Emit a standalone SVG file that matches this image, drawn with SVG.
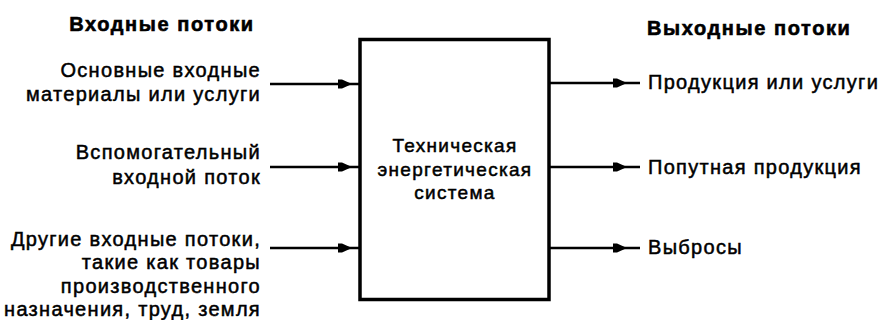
<svg xmlns="http://www.w3.org/2000/svg" width="878" height="320" viewBox="0 0 878 320">
<style>
  text { font-family: "Liberation Sans", Arial, sans-serif; fill: #000; }
  .hdr { font-size: 20px; font-weight: bold; letter-spacing: 1.6px; stroke: #000; stroke-width: 0.6; }
  .lbl { font-size: 20px; letter-spacing: 1.3px; stroke: #000; stroke-width: 0.5; }
  .box-lbl { font-size: 19px; letter-spacing: 1.3px; stroke: #000; stroke-width: 0.5; }
  .conn { stroke: #000; stroke-width: 2.5; fill: none; }
</style>
<defs>
  <marker id="arr-in" markerUnits="userSpaceOnUse" markerWidth="30" markerHeight="14" refX="21" refY="6" orient="auto">
    <path d="M0,1.5 L4,1.5 L14,6 L4,10.5 L0,10.5 z" fill="#000"/>
  </marker>
  <marker id="arr-out" markerUnits="userSpaceOnUse" markerWidth="30" markerHeight="14" refX="27" refY="6" orient="auto">
    <path d="M0,1.5 L4,1.5 L14,6 L4,10.5 L0,10.5 z" fill="#000"/>
  </marker>
</defs>
<rect width="878" height="320" fill="#fff"/>
<g id="headers">
  <text class="hdr" x="162" y="31" text-anchor="middle">Входные потоки</text>
  <text class="hdr" x="647" y="35">Выходные потоки</text>
</g>
<g id="system">
  <rect x="360" y="39.5" width="189" height="260" fill="#fff" stroke="#000" stroke-width="3.5"/>
  <text class="box-lbl" x="455" y="152" text-anchor="middle">Техническая</text>
  <text class="box-lbl" x="455" y="176" text-anchor="middle">энергетическая</text>
  <text class="box-lbl" x="455" y="199" text-anchor="middle">система</text>
</g>
<g id="in-main">
  <text class="lbl" x="261" y="77" text-anchor="end">Основные входные</text>
  <text class="lbl" x="261" y="101" text-anchor="end">материалы или услуги</text>
</g>
<g id="in-aux">
  <text class="lbl" x="261" y="159" text-anchor="end">Вспомогательный</text>
  <text class="lbl" x="261" y="184" text-anchor="end">входной поток</text>
</g>
<g id="in-other">
  <text class="lbl" x="261" y="246" text-anchor="end">Другие входные потоки,</text>
  <text class="lbl" x="261" y="269" text-anchor="end">такие как товары</text>
  <text class="lbl" x="261" y="293" text-anchor="end">производственного</text>
  <text class="lbl" x="261" y="316" text-anchor="end">назначения, труд, земля</text>
</g>
<g id="out-products">
  <text class="lbl" x="648" y="89">Продукция или услуги</text>
</g>
<g id="out-byproducts">
  <text class="lbl" x="648" y="174">Попутная продукция</text>
</g>
<g id="out-emissions">
  <text class="lbl" x="648" y="254">Выбросы</text>
</g>
<g id="connectors">
  <line class="conn" x1="270" y1="84" x2="359" y2="84" marker-end="url(#arr-in)"/>
  <line class="conn" x1="270" y1="167" x2="359" y2="167" marker-end="url(#arr-in)"/>
  <line class="conn" x1="270" y1="248" x2="359" y2="248" marker-end="url(#arr-in)"/>
  <line class="conn" x1="550" y1="83" x2="640" y2="83" marker-end="url(#arr-out)"/>
  <line class="conn" x1="550" y1="167" x2="640" y2="167" marker-end="url(#arr-out)"/>
  <line class="conn" x1="550" y1="248" x2="640" y2="248" marker-end="url(#arr-out)"/>
</g>
</svg>
